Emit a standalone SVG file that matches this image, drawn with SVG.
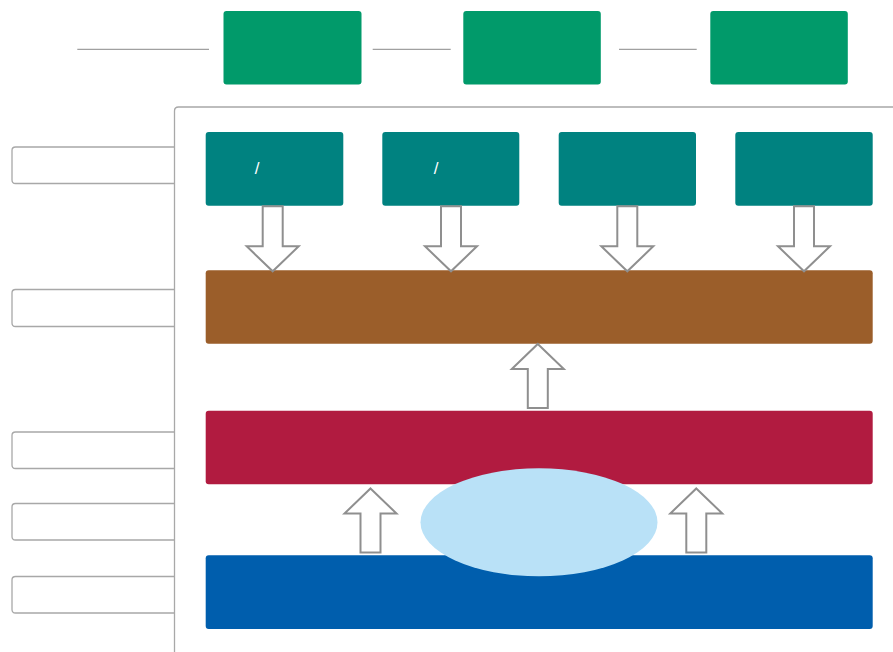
<svg xmlns="http://www.w3.org/2000/svg" xmlns:xlink="http://www.w3.org/1999/xlink" width="893" height="652" viewBox="0 0 893 652">
<style>
.green{fill:#019a6a}
.teal{fill:#008280}
.label{fill:#ffffff;stroke:#a8a8a8;stroke-width:1.3}
.frame{fill:none;stroke:#a8a8a8;stroke-width:1.3}
.line{stroke:#a0a0a0;stroke-width:1.3;fill:none}
.arrow{fill:#ffffff;stroke:#8f8f8f;stroke-width:2}
.txt{fill:#ffffff;font-family:"Liberation Sans",Arial,sans-serif;font-size:17px;text-anchor:middle}
</style>
<defs>
<path id="arrowDown" d="M-10,0 V40 H-26 L0,65 L26,40 H10 V0 Z"/>
<path id="arrowUp" d="M0,0 L26,25 H10 V64 H-10 V25 H-26 Z"/>
</defs>
<rect width="893" height="652" fill="#ffffff"/>
<g id="label1"><path class="label" d="M174.5,147 H15.5 Q12,147 12,150.5 V180 Q12,183.5 15.5,183.5 H174.5"/></g>
<g id="label2"><path class="label" d="M174.5,289.5 H15.5 Q12,289.5 12,293 V323 Q12,326.5 15.5,326.5 H174.5"/></g>
<g id="label3"><path class="label" d="M174.5,432 H15.5 Q12,432 12,435.5 V465 Q12,468.5 15.5,468.5 H174.5"/></g>
<g id="label4"><path class="label" d="M174.5,503.5 H15.5 Q12,503.5 12,507 V536.5 Q12,540 15.5,540 H174.5"/></g>
<g id="label5"><path class="label" d="M174.5,576.5 H15.5 Q12,576.5 12,580 V609.5 Q12,613 15.5,613 H174.5"/></g>
<g id="frame">
<path class="frame" d="M174.5,652 V111 Q174.5,107 178.5,107 H893"/>
</g>
<g id="top1"><rect class="green" x="223.5" y="11" width="138" height="73.5" rx="3"/></g>
<g id="top2"><rect class="green" x="463.3" y="11" width="137.5" height="73.5" rx="3"/></g>
<g id="top3"><rect class="green" x="710.3" y="11" width="137.5" height="73.5" rx="3"/></g>
<g id="teal1"><rect class="teal" x="205.7" y="132" width="137.6" height="73.7" rx="3"/><text class="txt" x="257" y="173.5">/</text></g>
<g id="teal2"><rect class="teal" x="382.3" y="132" width="137" height="73.7" rx="3"/><text class="txt" x="436" y="173.5">/</text></g>
<g id="teal3"><rect class="teal" x="558.7" y="132" width="137.3" height="73.7" rx="3"/></g>
<g id="teal4"><rect class="teal" x="735.3" y="132" width="137.4" height="73.7" rx="3"/></g>
<g id="brown"><rect x="205.7" y="270.3" width="667" height="73.4" rx="3" fill="#9b5e2a"/></g>
<g id="red"><rect x="205.7" y="410.7" width="667" height="73.6" rx="3" fill="#b11b40"/></g>
<g id="blue"><rect x="205.7" y="555.3" width="667" height="73.7" rx="3" fill="#005ead"/></g>
<g id="ellipse"><ellipse cx="539" cy="522.3" rx="118.5" ry="54" fill="#b9e1f7"/></g>
<g id="connectors">
<line class="line" x1="77.3" y1="49.3" x2="209" y2="49.3"/>
<line class="line" x1="372.7" y1="49.3" x2="450.7" y2="49.3"/>
<line class="line" x1="619" y1="49.3" x2="696.7" y2="49.3"/>
<use href="#arrowDown" class="arrow" x="272.7" y="206.3"/>
<use href="#arrowDown" class="arrow" x="451" y="206.3"/>
<use href="#arrowDown" class="arrow" x="627.3" y="206.3"/>
<use href="#arrowDown" class="arrow" x="804" y="206.3"/>
<use href="#arrowUp" class="arrow" x="537.8" y="344"/>
<use href="#arrowUp" class="arrow" x="370.5" y="488.5"/>
<use href="#arrowUp" class="arrow" x="696.3" y="488.5"/>
</g>
</svg>
